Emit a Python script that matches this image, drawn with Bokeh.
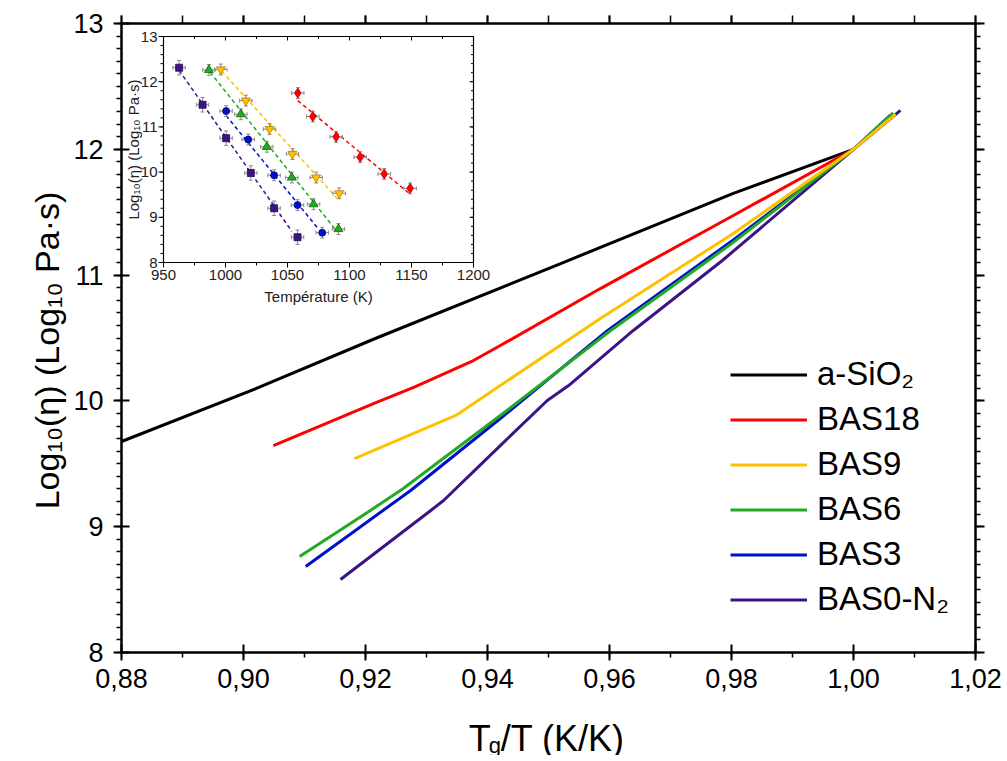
import numpy as np
from bokeh.plotting import figure
from bokeh.layouts import row, column
from bokeh.models import (Range1d, LinearAxis, FixedTicker, CustomJSTickFormatter,
                          Legend, LegendItem)
from bokeh.core.properties import value
from bokeh.embed import file_html
from bokeh.resources import INLINE

# ---------------- main chart data (Tg/T , log10 viscosity) ----------------
sio2_x = [0.88, 0.9025, 0.9216, 0.952, 0.9803, 1.0]
sio2_y = [9.677, 10.107, 10.496, 11.092, 11.649, 12.0]
bas18_x = [0.9049, 0.9213, 0.9279, 0.9377, 0.9421, 0.9585, 0.9803, 1.0]
bas18_y = [9.645, 9.979, 10.107, 10.321, 10.44, 10.893, 11.474, 12.0]
bas9_x = [0.9182, 0.9348, 0.9421, 0.9585, 0.9803, 1.0, 1.0069]
bas9_y = [9.542, 9.884, 10.122, 10.655, 11.331, 12.0, 12.28]
bas6_x = [0.9092, 0.9203, 0.9262, 0.9421, 0.9602, 0.9803, 1.0, 1.0065]
bas6_y = [8.763, 9.113, 9.304, 9.884, 10.56, 11.26, 12.0, 12.29]
bas3_x = [0.9102, 0.9274, 0.9421, 0.9597, 0.9803, 1.0, 1.006]
bas3_y = [8.684, 9.288, 9.86, 10.56, 11.28, 12.0, 12.27]
bas0_x = [0.9159, 0.9307, 0.9328, 0.9421, 0.9498, 0.9533, 0.9639, 0.9785, 1.0, 1.0077]
bas0_y = [8.58, 9.129, 9.208, 9.645, 10.003, 10.122, 10.56, 11.116, 12.0, 12.31]

series_names = ["a-SiO\u2082", "BAS18", "BAS9", "BAS6", "BAS3", "BAS0-N\u2082"]
series_colors = ["#000000", "#FF0000", "#FFC000", "#22AA22", "#0010C8", "#3D1485"]

x_ticks = [0.88, 0.90, 0.92, 0.94, 0.96, 0.98, 1.00, 1.02]
x_tick_labels = ["0,88", "0,90", "0,92", "0,94", "0,96", "0,98", "1,00", "1,02"]
y_ticks = [8, 9, 10, 11, 12, 13]

y_title = "Log\u2081\u2080(\u03b7) (Log\u2081\u2080 Pa\u00b7s)"
x_title_parts = ["T", "g", "/T (K/K)"]

# ---------------- inset data (Temperature K , log10 viscosity) ----------------
in_bas0_T = [962.6, 981.5, 1000.5, 1020.4, 1039.2, 1058.1]
in_bas0_v = [12.31, 11.49, 10.75, 9.98, 9.20, 8.56]
in_bas3_T = [1000.5, 1018.3, 1039.2, 1058.1, 1078.0]
in_bas3_v = [11.35, 10.72, 9.93, 9.27, 8.66]
in_bas6_T = [986.6, 1012.4, 1033.3, 1053.5, 1071.0, 1091.1]
in_bas6_v = [12.26, 11.28, 10.56, 9.88, 9.29, 8.74]
in_bas9_T = [996.2, 1016.4, 1035.5, 1054.0, 1073.1, 1091.7]
in_bas9_v = [12.27, 11.58, 10.95, 10.40, 9.88, 9.53]
in_bas18_T = [1058.3, 1070.4, 1089.2, 1108.6, 1128.0, 1148.9]
in_bas18_v = [11.75, 11.23, 10.78, 10.33, 9.96, 9.64]

fit_bas0_T = [962.6, 1053.5]; fit_bas0_v = [12.25, 8.69]
fit_bas3_T = [1000.5, 1075.0]; fit_bas3_v = [11.25, 8.74]
fit_bas6_T = [987.6, 1089.8]; fit_bas6_v = [12.21, 8.69]
fit_bas9_T = [997.0, 1091.0]; fit_bas9_v = [12.23, 9.39]
fit_bas18_T = [1058.3, 1149.0]; fit_bas18_v = [11.58, 9.51]

err_T = [5.0, 5.0, 5.0, 5.0, 5.0]          # K, per series
err_v = [0.12, 0.12, 0.12, 0.12, 0.16]     # log units, per series

in_x_ticks = [950, 1000, 1050, 1100, 1150, 1200]
in_y_ticks = [8, 9, 10, 11, 12, 13]

# ---------------- layout ----------------
TOTW, TOTH = 1007, 755
YLW = 70                       # width of the strip holding the y title
W, H = TOTW - YLW, 700         # main figure
XLH = TOTH - H                 # strip holding the x title
BL, BR, BT, BB = 121 - YLW, TOTW - 975, 23, H - 652
FW, FH = W - BL - BR, H - BT - BB
FONT = "Liberation Sans"


def bare(width, height, xr, yr):
    f = figure(width=width, height=height, x_range=Range1d(*xr), y_range=Range1d(*yr),
               output_backend="svg", toolbar_location=None, min_border=0,
               x_axis_location=None, y_axis_location=None)
    f.xgrid.visible = False
    f.ygrid.visible = False
    f.outline_line_color = None
    return f


p = figure(width=W, height=H, x_range=Range1d(0.88, 1.02), y_range=Range1d(8, 13),
           output_backend="svg", toolbar_location=None,
           min_border_left=BL, min_border_right=BR, min_border_top=BT, min_border_bottom=BB,
           x_axis_location=None, y_axis_location=None)
p.xgrid.visible = False
p.ygrid.visible = False
p.outline_line_color = "black"
p.outline_line_width = 2

fmt_x = CustomJSTickFormatter(args=dict(tv=x_ticks, labs=x_tick_labels), code="""
const i = tv.findIndex(t => Math.abs(t - tick) < 1e-9);
return i >= 0 ? labs[i] : '';
""")
xminor = [float(v) for v in np.round(np.arange(0.88, 1.0201, 0.01), 4)]
yminor = [float(v) for v in np.round(np.arange(8, 13.001, 0.1), 3)]


def axis(ticker, formatter, size, standoff, tin, tout, mout):
    return LinearAxis(ticker=ticker, formatter=formatter,
                      axis_line_width=2, major_tick_line_width=2, minor_tick_line_width=1.5,
                      major_tick_in=tin, major_tick_out=tout, minor_tick_in=0, minor_tick_out=mout,
                      major_label_text_font=FONT, major_label_text_font_size=size,
                      major_label_standoff=standoff, major_label_text_color="black")


xt = FixedTicker(ticks=x_ticks, minor_ticks=xminor)
yt = FixedTicker(ticks=y_ticks, minor_ticks=yminor)
p.add_layout(axis(xt, fmt_x, "27px", 8, 8, 8, 5), "below")
p.add_layout(axis(xt, CustomJSTickFormatter(code="return '';"), "1px", 0, 0, 8, 8), "above")
p.add_layout(axis(yt, CustomJSTickFormatter(code="return '';"), "1px", 0, 0, 9, 5), "right")
p.add_layout(axis(yt, CustomJSTickFormatter(code="return tick.toFixed(0);"), "27px", 10, 8, 8, 5), "left")

# ---------------- main curves ----------------
main_series = [(sio2_x, sio2_y), (bas18_x, bas18_y), (bas9_x, bas9_y),
               (bas6_x, bas6_y), (bas3_x, bas3_y), (bas0_x, bas0_y)]
draw_order = [0, 1, 5, 4, 3, 2]
rends = {}
for i in draw_order:
    xs, ys = main_series[i]
    rends[i] = p.line(xs, ys, line_width=3, color=series_colors[i])

legend = Legend(items=[LegendItem(label=value(series_names[i]), renderers=[rends[i]]) for i in range(6)],
                location=(609, 34), glyph_width=77, glyph_height=35, label_height=35,
                label_text_font=FONT, label_text_font_size="33px", label_standoff=10,
                label_text_color="black",
                spacing=7, padding=0, margin=0, border_line_alpha=0, background_fill_alpha=0)
p.add_layout(legend)

# ---------------- inset (drawn through its own ranges) ----------------
T0, T1, V0, V1 = 950, 1200, 8, 13
IL, IR, IT, IB = 42, 352, 13, 239     # inset frame in px inside main frame
kx = (T1 - T0) / (IR - IL)
ky = (V1 - V0) / (IB - IT)
p.extra_x_ranges = {"ins": Range1d(T0 - IL * kx, T1 + (FW - IR) * kx)}
p.extra_y_ranges = {"ins": Range1d(V0 - (FH - IB) * ky, V1 + IT * ky)}
I = dict(x_range_name="ins", y_range_name="ins")

p.quad(left=[T0], right=[T1], bottom=[V0], top=[V1], fill_color="white",
       line_color="black", line_width=1.2, **I)

in_x_minor = [975, 1025, 1075, 1125, 1175]
in_y_minor = [float(v) for v in np.round(np.arange(8, 13.001, 0.2), 2)]
p.segment(x0=in_x_ticks, y0=[V0] * 6, x1=in_x_ticks, y1=[V0 - 5 * ky] * 6, color="black", line_width=1, **I)
p.segment(x0=in_x_minor, y0=[V0] * 5, x1=in_x_minor, y1=[V0 - 3 * ky] * 5, color="black", line_width=1, **I)
p.segment(x0=in_x_ticks, y0=[V1] * 6, x1=in_x_ticks, y1=[V1 - 4 * ky] * 6, color="black", line_width=1, **I)
p.segment(x0=in_x_minor, y0=[V1] * 5, x1=in_x_minor, y1=[V1 - 2.5 * ky] * 5, color="black", line_width=1, **I)
n = len(in_y_minor)
p.segment(x0=[T0] * 6, y0=in_y_ticks, x1=[T0 - 5 * kx] * 6, y1=in_y_ticks, color="black", line_width=1, **I)
p.segment(x0=[T0] * n, y0=in_y_minor, x1=[T0 - 3 * kx] * n, y1=in_y_minor, color="black", line_width=1, **I)
p.segment(x0=[T1] * 6, y0=in_y_ticks, x1=[T1 - 4 * kx] * 6, y1=in_y_ticks, color="black", line_width=1, **I)
p.segment(x0=[T1] * n, y0=in_y_minor, x1=[T1 - 2.5 * kx] * n, y1=in_y_minor, color="black", line_width=1, **I)

p.text(x=in_x_ticks, y=[V0] * 6, text=[str(t) for t in in_x_ticks], y_offset=7, text_align="center",
       text_baseline="top", text_font=value(FONT), text_font_size="15px", text_color="#222222", **I)
p.text(x=[T0] * 6, y=in_y_ticks, text=[str(t) for t in in_y_ticks], x_offset=-6, text_align="right",
       text_baseline="middle", text_font=value(FONT), text_font_size="15px", text_color="#222222", **I)
p.text(x=[(T0 + T1) / 2], y=[V0], text=["Temp\u00e9rature (K)"], y_offset=25, text_align="center",
       text_baseline="top", text_font=value(FONT), text_font_size="15px", text_color="#222222", **I)
p.text(x=[T0], y=[(V0 + V1) / 2], text=[y_title], angle=np.pi / 2,
       x_offset=-30, text_align="center", text_baseline="middle",
       text_font=value(FONT), text_font_size="15px", text_color="#222222", **I)

inset_series = [
    (in_bas18_T, in_bas18_v, fit_bas18_T, fit_bas18_v, "#FF0000", "#B00000", "diamond", 10),
    (in_bas9_T, in_bas9_v, fit_bas9_T, fit_bas9_v, "#FFC000", "#B08000", "inverted_triangle", 9),
    (in_bas6_T, in_bas6_v, fit_bas6_T, fit_bas6_v, "#22AA22", "#116611", "triangle", 9),
    (in_bas3_T, in_bas3_v, fit_bas3_T, fit_bas3_v, "#0010C8", "#000880", "circle", 7),
    (in_bas0_T, in_bas0_v, fit_bas0_T, fit_bas0_v, "#3D1485", "#220A55", "square", 7),
]
cap_x = 2 * kx
cap_y = 2 * ky
gray = "#888888"
for k, (Ts, vs, fT, fv, col, dark, mk, sz) in enumerate(inset_series):
    eT, ev = err_T[k], err_v[k]
    p.line(fT, fv, line_dash="4 3", line_width=1.5, color=col, **I)
    Ts_a, vs_a = np.array(Ts), np.array(vs)
    p.segment(x0=Ts_a - eT, y0=vs_a, x1=Ts_a + eT, y1=vs_a, color=gray, line_width=1, **I)
    p.segment(x0=Ts_a, y0=vs_a - ev, x1=Ts_a, y1=vs_a + ev, color=gray, line_width=1, **I)
    p.segment(x0=Ts_a - cap_x, y0=vs_a - ev, x1=Ts_a + cap_x, y1=vs_a - ev, color=gray, line_width=1, **I)
    p.segment(x0=Ts_a - cap_x, y0=vs_a + ev, x1=Ts_a + cap_x, y1=vs_a + ev, color=gray, line_width=1, **I)
    p.segment(x0=Ts_a - eT, y0=vs_a - cap_y, x1=Ts_a - eT, y1=vs_a + cap_y, color=gray, line_width=1, **I)
    p.segment(x0=Ts_a + eT, y0=vs_a - cap_y, x1=Ts_a + eT, y1=vs_a + cap_y, color=gray, line_width=1, **I)
    p.scatter(Ts, vs, marker=mk, size=sz, fill_color=col, line_color=dark, line_width=0.8, **I)

# ---------------- axis titles in their own strips ----------------
ylab = bare(YLW, TOTH, (0, YLW), (0, TOTH))
ylab.text(x=[46], y=[TOTH - 350], text=[y_title], angle=np.pi / 2, text_align="center",
          text_baseline="middle", text_font=value(FONT), text_font_size="34px", text_color="black")

xlab = bare(W, XLH, (0, W), (0, XLH))
xbase = XLH - (738 - H)
xs0 = 451 - YLW
xlab.text(x=[xs0], y=[xbase], text=[x_title_parts[0]], text_align="left", text_baseline="alphabetic",
          text_font=value(FONT), text_font_size="36px", text_color="black")
xlab.text(x=[xs0 + 22], y=[xbase - 7], text=[x_title_parts[1]], text_align="left", text_baseline="alphabetic",
          text_font=value(FONT), text_font_size="22px", text_color="black")
xlab.text(x=[xs0 + 35], y=[xbase], text=[x_title_parts[2]], text_align="left", text_baseline="alphabetic",
          text_font=value(FONT), text_font_size="36px", text_color="black")

layout = row(ylab, column(p, xlab, spacing=0), spacing=0)
open("out.html", "w").write(file_html(layout, INLINE))
